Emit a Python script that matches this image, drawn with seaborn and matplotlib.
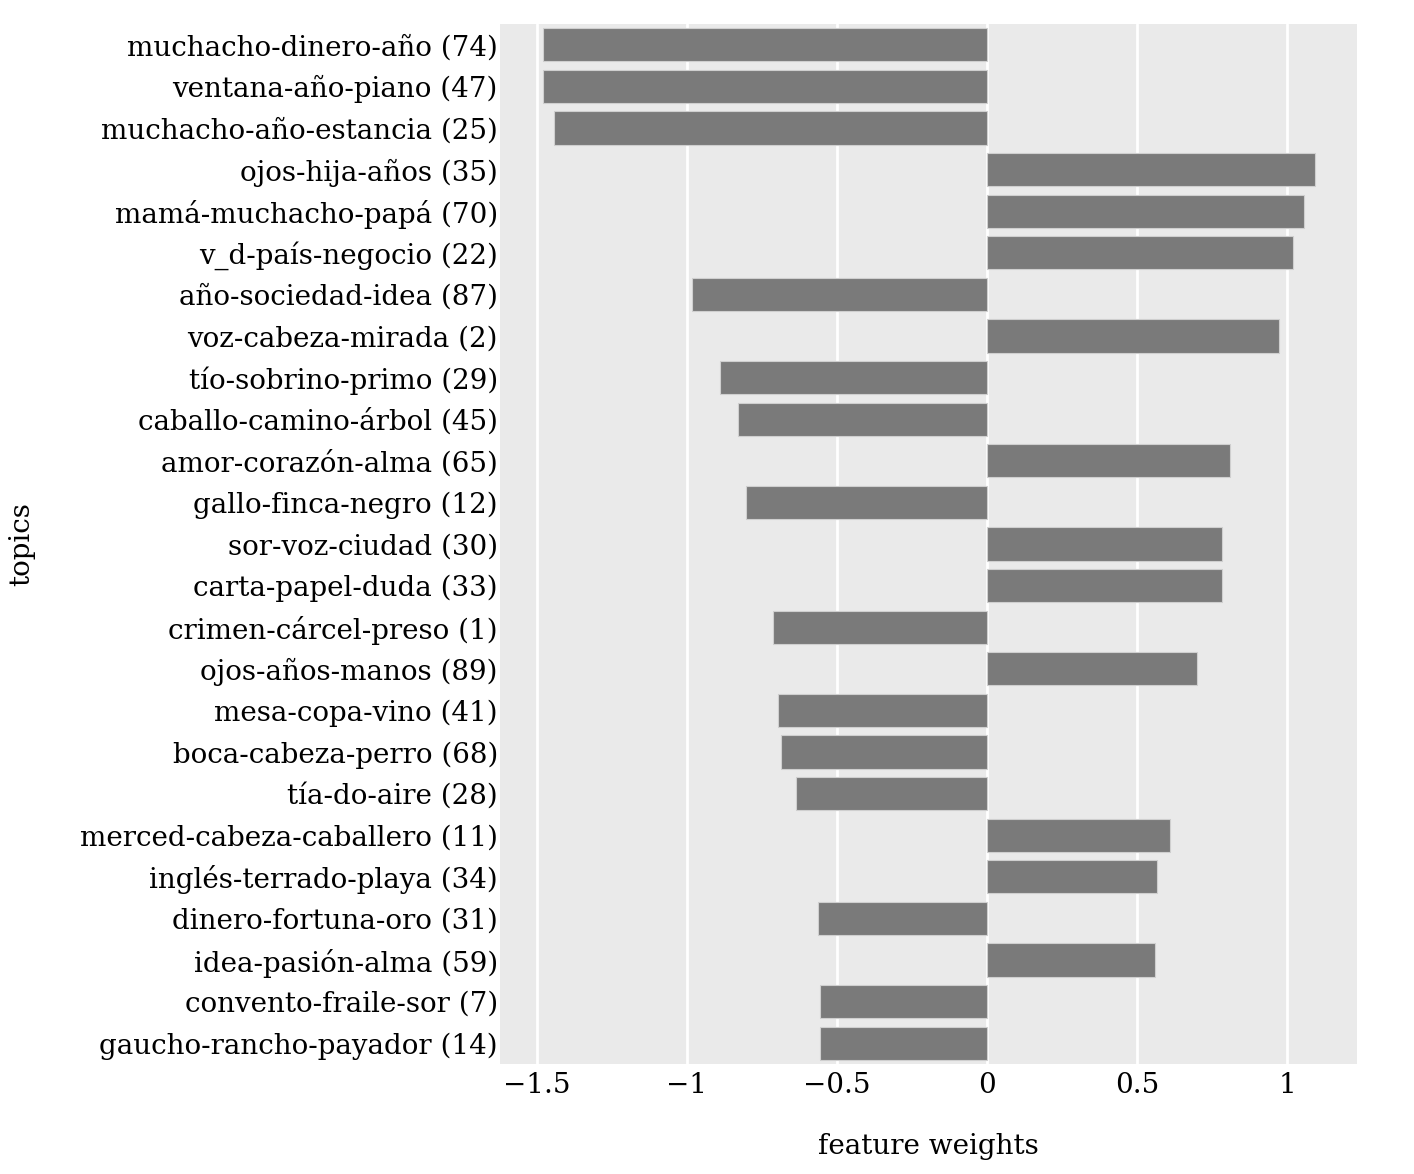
import matplotlib
matplotlib.use("Agg")
import matplotlib.pyplot as plt
import seaborn as sns
import pandas as pd
from matplotlib.ticker import FuncFormatter, FixedLocator

topics = [
    "muchacho-dinero-año (74)", "ventana-año-piano (47)", "muchacho-año-estancia (25)",
    "ojos-hija-años (35)", "mamá-muchacho-papá (70)", "v_d-país-negocio (22)",
    "año-sociedad-idea (87)", "voz-cabeza-mirada (2)", "tío-sobrino-primo (29)",
    "caballo-camino-árbol (45)", "amor-corazón-alma (65)", "gallo-finca-negro (12)",
    "sor-voz-ciudad (30)", "carta-papel-duda (33)", "crimen-cárcel-preso (1)",
    "ojos-años-manos (89)", "mesa-copa-vino (41)", "boca-cabeza-perro (68)",
    "tía-do-aire (28)", "merced-cabeza-caballero (11)", "inglés-terrado-playa (34)",
    "dinero-fortuna-oro (31)", "idea-pasión-alma (59)", "convento-fraile-sor (7)",
    "gaucho-rancho-payador (14)",
]
weights = [
    -1.480, -1.480, -1.443, 1.093, 1.057, 1.020, -0.983, 0.973, -0.890, -0.830,
    0.810, -0.803, 0.783, 0.783, -0.713, 0.700, -0.697, -0.687, -0.637, 0.610,
    0.567, -0.563, 0.560, -0.557, -0.557,
]
x_ticks = [-1.5, -1.0, -0.5, 0.0, 0.5, 1.0]

df = pd.DataFrame({"topics": topics, "feature weights": weights})

sns.set_theme(style="darkgrid")
plt.rcParams["font.family"] = ["DejaVu Serif"]

fig = plt.figure(figsize=(14.14, 11.74), dpi=100)
ax = fig.add_axes([500 / 1414, 1 - 1064 / 1174, 857 / 1414, 1040 / 1174])
ax.set_facecolor("#EAEAEA")

sns.barplot(data=df, x="feature weights", y="topics", color="#7a7a7a",
            saturation=1, orient="h", width=0.8, ax=ax,
            edgecolor="#cfcfcf", linewidth=0.8)

ax.set_xlim(-1.623, 1.233)
ax.xaxis.set_major_locator(FixedLocator(x_ticks))
ax.xaxis.set_major_formatter(FuncFormatter(lambda v, p: ("%g" % v).replace("-", "\u2212")))
ax.grid(axis="x", color="white", linewidth=2)
ax.grid(axis="y", visible=False)
ax.set_axisbelow(True)
for s in ax.spines.values():
    s.set_visible(False)
ax.tick_params(axis="both", length=0, labelsize=20, colors="black")
ax.tick_params(axis="y", pad=1.5)
ax.tick_params(axis="x", pad=6)
ax.set_xlabel("feature weights", fontsize=20, labelpad=24, color="black")
ax.set_ylabel("topics", fontsize=20, labelpad=32, color="black")

fig.savefig("out.png", dpi=100)
